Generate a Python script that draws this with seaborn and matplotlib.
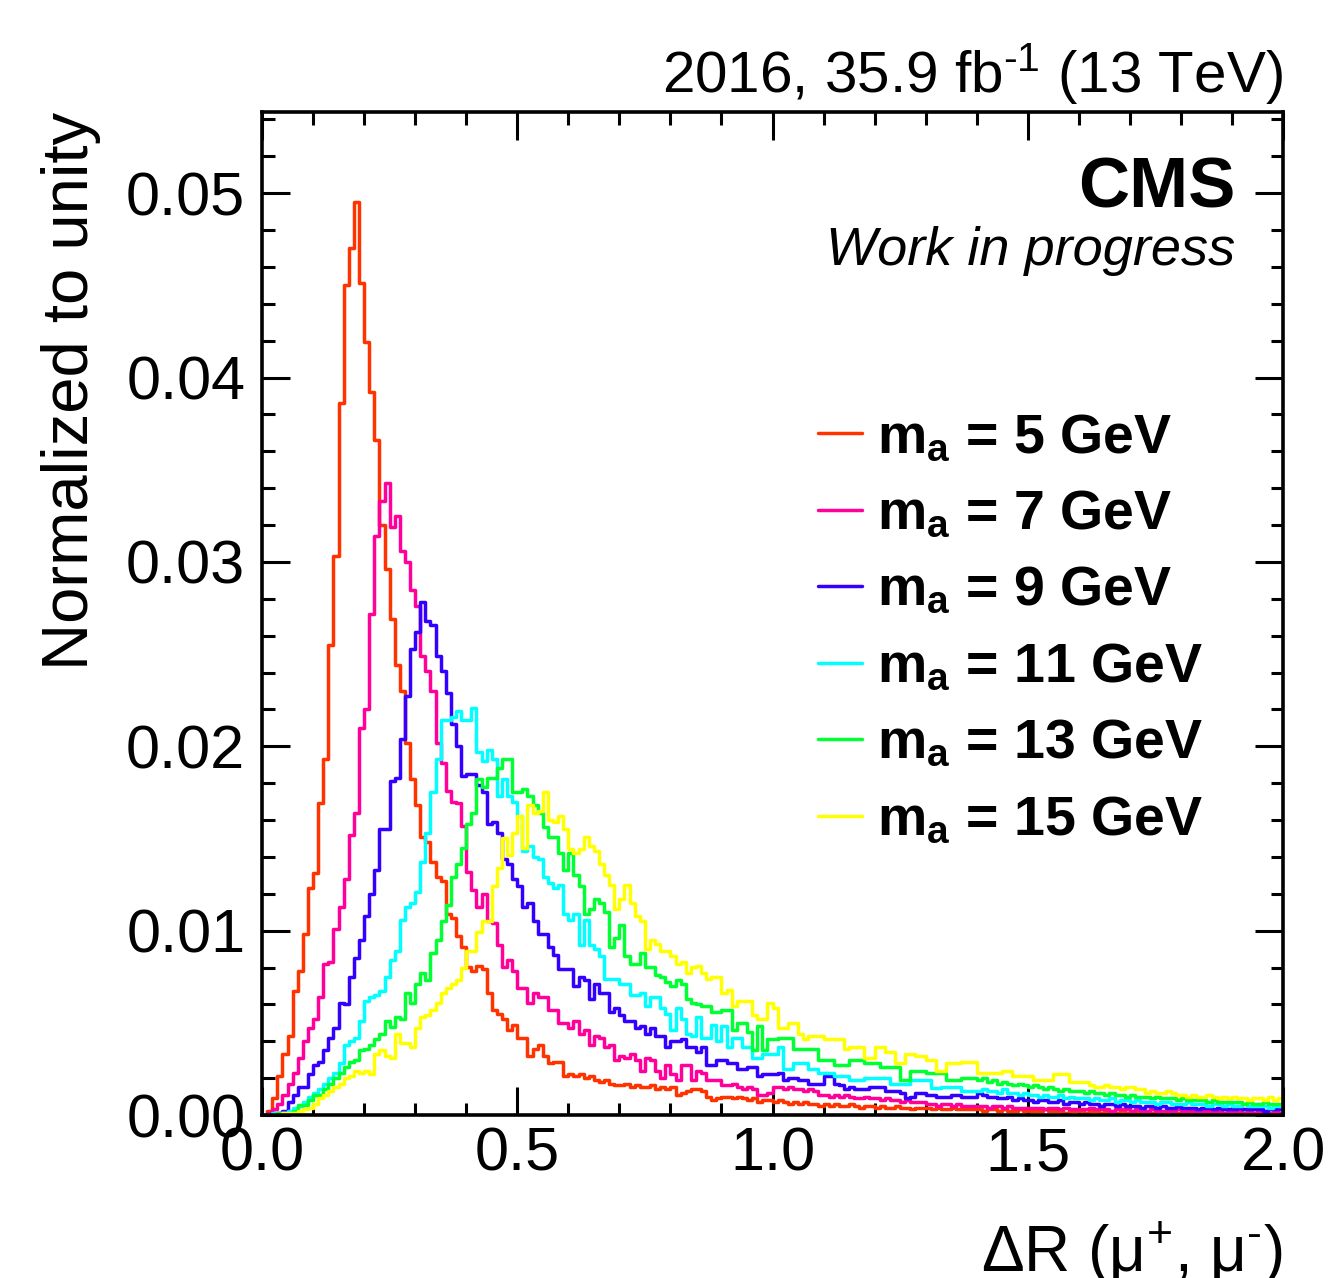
import numpy as np
import pandas as pd
import matplotlib
matplotlib.use("Agg")
import matplotlib.pyplot as plt
import seaborn as sns
from matplotlib.lines import Line2D
from matplotlib.ticker import MultipleLocator, FormatStrFormatter

# ---------------- data (bin contents in units of 1e-3, 200 bins of width 0.01 from 0 to 2) -------------
n_bins = 200
x_min, x_max = 0.0, 2.0

mass_labels = [r"$\mathbf{m_{a}}$ = 5 GeV", r"$\mathbf{m_{a}}$ = 7 GeV", r"$\mathbf{m_{a}}$ = 9 GeV",
               r"$\mathbf{m_{a}}$ = 11 GeV", r"$\mathbf{m_{a}}$ = 13 GeV", r"$\mathbf{m_{a}}$ = 15 GeV"]
colors = ["#ff3300", "#ff0099", "#3300ff", "#00ffff", "#00ff33", "#ffff00"]

ma5 = [
    0.0, 0.2, 0.9, 2.1, 3.3, 4.3, 6.7, 7.8, 9.8, 12.3,
    13.1, 16.9, 19.3, 25.5, 30.3, 38.6, 45.0, 47.0, 49.5, 45.1,
    41.9, 39.2, 36.6, 32.0, 29.6, 26.9, 24.4, 23.0, 20.2, 18.2,
    16.8, 15.1, 14.8, 13.7, 12.9, 12.7, 10.9, 10.7, 9.7, 9.1,
    8.0, 7.8, 8.1, 7.9, 6.6, 5.7, 5.5, 5.2, 4.6, 4.9,
    4.2, 4.2, 3.2, 3.6, 3.8, 3.2, 2.8, 2.9, 2.9, 2.1,
    2.2, 2.1, 2.2, 2.0, 2.1, 1.9, 1.8, 1.9, 1.7, 1.6,
    1.6, 1.7, 1.5, 1.6, 1.5, 1.5, 1.6, 1.4, 1.5, 1.4,
    1.5, 1.1, 1.2, 1.3, 1.4, 1.4, 1.3, 1.0, 0.8, 0.9,
    1.0, 1.0, 0.9, 1.0, 0.9, 0.8, 0.9, 0.7, 0.8, 0.8,
    0.7, 0.8, 0.7, 0.6, 0.7, 0.6, 0.7, 0.6, 0.6, 0.5,
    0.6, 0.5, 0.6, 0.5, 0.5, 0.6, 0.5, 0.4, 0.5, 0.5,
    0.4, 0.5, 0.4, 0.4, 0.5, 0.4, 0.4, 0.3, 0.4, 0.4,
    0.4, 0.3, 0.4, 0.3, 0.3, 0.4, 0.3, 0.3, 0.3, 0.3,
    0.3, 0.2, 0.3, 0.3, 0.2, 0.3, 0.2, 0.2, 0.3, 0.2,
    0.2, 0.2, 0.2, 0.3, 0.2, 0.2, 0.2, 0.1, 0.2, 0.2,
    0.2, 0.1, 0.2, 0.2, 0.1, 0.2, 0.1, 0.1, 0.2, 0.1,
    0.1, 0.2, 0.1, 0.1, 0.1, 0.1, 0.2, 0.1, 0.1, 0.1,
    0.1, 0.1, 0.1, 0.1, 0.1, 0.1, 0.1, 0.1, 0.1, 0.1,
    0.1, 0.1, 0.1, 0.1, 0.1, 0.1, 0.1, 0.1, 0.1, 0.1,
]

ma7 = [
    0.0, 0.1, 0.3, 0.6, 1.1, 1.7, 2.3, 3.1, 4.0, 4.7,
    5.2, 6.4, 8.2, 8.3, 10.1, 11.3, 12.8, 15.2, 16.4, 21.0,
    22.0, 27.2, 31.4, 33.3, 34.3, 31.9, 32.5, 30.6, 30.0, 28.5,
    27.6, 24.9, 24.1, 23.0, 20.2, 19.1, 17.6, 17.0, 16.9, 15.7,
    13.2, 12.2, 11.3, 12.0, 10.5, 10.4, 9.2, 8.0, 8.4, 7.8,
    6.9, 6.9, 6.1, 6.6, 6.4, 6.4, 5.7, 5.7, 5.0, 5.0,
    4.7, 5.1, 4.4, 4.6, 3.8, 4.3, 4.2, 3.7, 3.8, 3.0,
    3.2, 3.1, 3.3, 3.0, 2.4, 3.1, 3.0, 2.4, 2.0, 2.7,
    2.2, 1.9, 2.7, 2.7, 1.9, 2.4, 2.3, 1.9, 1.9, 1.9,
    1.6, 1.6, 1.7, 1.5, 1.4, 1.5, 1.4, 1.1, 1.1, 1.2,
    1.5, 1.5, 1.4, 1.5, 1.4, 1.4, 1.3, 1.4, 1.3, 1.1,
    1.1, 1.0, 1.1, 1.0, 1.1, 1.0, 0.9, 0.9, 1.0, 0.9,
    0.9, 0.8, 0.9, 0.8, 0.8, 0.7, 0.8, 0.7, 0.7, 0.7,
    0.6, 0.6, 0.5, 0.6, 0.6, 0.5, 0.6, 0.5, 0.5, 0.5,
    0.5, 0.5, 0.4, 0.5, 0.5, 0.4, 0.5, 0.4, 0.4, 0.4,
    0.4, 0.4, 0.4, 0.3, 0.4, 0.4, 0.3, 0.4, 0.3, 0.3,
    0.3, 0.3, 0.4, 0.3, 0.3, 0.3, 0.2, 0.3, 0.3, 0.3,
    0.2, 0.3, 0.2, 0.2, 0.3, 0.2, 0.2, 0.2, 0.2, 0.3,
    0.2, 0.2, 0.2, 0.2, 0.2, 0.2, 0.2, 0.2, 0.1, 0.2,
    0.2, 0.2, 0.1, 0.2, 0.1, 0.2, 0.1, 0.1, 0.2, 0.1,
]

ma9 = [
    0.0, 0.0, 0.1, 0.1, 0.2, 0.7, 1.1, 1.5, 1.5, 2.2,
    2.7, 2.9, 3.5, 4.2, 4.7, 6.1, 6.0, 7.5, 8.5, 9.5,
    10.8, 12.0, 13.3, 15.5, 15.5, 18.1, 18.3, 20.4, 22.7, 25.3,
    26.2, 27.8, 26.8, 26.6, 24.9, 24.1, 22.9, 21.2, 20.0, 18.4,
    18.5, 18.5, 17.9, 17.5, 15.8, 15.9, 15.3, 13.9, 13.6, 12.8,
    12.4, 11.3, 11.5, 10.5, 9.8, 9.8, 9.1, 8.7, 7.9, 7.9,
    7.9, 7.0, 7.5, 7.3, 6.3, 7.1, 6.6, 6.6, 5.6, 5.8,
    5.4, 5.1, 5.1, 4.7, 4.8, 4.4, 4.7, 4.3, 4.3, 3.7,
    4.0, 4.0, 4.1, 3.7, 3.7, 3.4, 3.7, 2.7, 2.7, 3.0,
    3.0, 2.8, 2.8, 2.5, 2.5, 2.6, 2.6, 2.1, 2.2, 2.2,
    2.2, 2.3, 1.9, 2.0, 2.0, 1.9, 1.9, 1.7, 1.7, 1.7,
    2.1, 2.1, 1.7, 1.6, 1.4, 1.5, 1.4, 1.4, 1.4, 1.5,
    1.5, 1.5, 1.3, 1.3, 1.3, 1.2, 0.9, 1.0, 1.2, 1.2,
    1.1, 1.1, 1.0, 1.0, 1.0, 1.1, 1.1, 1.0, 1.0, 1.0,
    1.2, 1.1, 1.0, 1.0, 0.9, 0.9, 1.0, 0.8, 0.9, 0.8,
    0.8, 0.7, 0.8, 0.8, 0.7, 0.7, 0.8, 0.6, 0.7, 0.7,
    0.6, 0.7, 0.6, 0.6, 0.5, 0.6, 0.6, 0.5, 0.6, 0.5,
    0.5, 0.5, 0.4, 0.5, 0.5, 0.4, 0.5, 0.4, 0.4, 0.5,
    0.4, 0.4, 0.4, 0.3, 0.4, 0.4, 0.3, 0.4, 0.3, 0.3,
    0.3, 0.4, 0.3, 0.3, 0.3, 0.3, 0.2, 0.3, 0.3, 0.3,
]

ma11 = [
    0.0, 0.0, 0.1, 0.1, 0.1, 0.2, 0.4, 0.5, 0.7, 1.0,
    1.2, 1.4, 1.7, 2.0, 2.3, 2.8, 3.8, 4.0, 4.2, 5.1,
    6.2, 6.4, 6.5, 6.7, 7.5, 8.4, 8.9, 10.6, 11.3, 11.5,
    12.1, 13.7, 15.3, 17.5, 19.3, 21.4, 21.4, 21.6, 21.9, 21.4,
    21.4, 22.1, 19.7, 19.2, 19.8, 19.3, 17.3, 18.2, 17.3, 17.0,
    16.2, 14.3, 14.6, 14.0, 13.9, 12.9, 12.6, 12.3, 12.5, 10.9,
    10.6, 10.9, 9.2, 10.6, 9.2, 9.0, 8.6, 7.4, 7.4, 7.4,
    7.1, 7.1, 6.5, 6.5, 6.6, 5.9, 6.4, 6.4, 5.8, 5.5,
    4.6, 5.8, 5.2, 4.4, 4.3, 5.3, 4.2, 4.2, 4.9, 4.0,
    4.8, 3.7, 4.2, 4.2, 3.7, 3.7, 3.1, 3.1, 3.3, 3.3,
    3.3, 3.7, 2.5, 2.5, 2.8, 2.8, 2.8, 2.5, 2.5, 2.3,
    2.3, 2.3, 2.1, 2.1, 2.1, 1.9, 1.9, 1.9, 2.0, 2.0,
    2.0, 2.0, 2.0, 1.7, 1.7, 1.7, 1.7, 1.9, 1.9, 1.9,
    1.9, 1.45, 1.45, 1.5, 1.5, 1.5, 1.5, 1.3, 1.3, 1.3,
    1.3, 1.4, 1.3, 1.3, 1.2, 1.4, 1.2, 1.2, 1.1, 1.2,
    1.1, 1.1, 1.0, 1.1, 1.0, 1.0, 1.1, 0.9, 1.0, 0.9,
    0.9, 0.9, 0.8, 0.9, 0.8, 0.8, 0.9, 0.7, 0.8, 0.8,
    0.7, 0.8, 0.7, 0.7, 0.7, 0.6, 0.7, 0.7, 0.6, 0.6,
    0.6, 0.7, 0.6, 0.6, 0.6, 0.5, 0.6, 0.6, 0.5, 0.6,
    0.5, 0.5, 0.6, 0.5, 0.5, 0.5, 0.5, 0.4, 0.5, 0.5,
]

ma13 = [
    0.0, 0.0, 0.0, 0.1, 0.1, 0.1, 0.2, 0.55, 0.55, 0.8,
    1.1, 1.1, 1.4, 1.7, 2.0, 2.3, 2.6, 2.9, 3.0, 3.5,
    3.6, 3.8, 4.1, 4.4, 5.1, 4.8, 5.3, 5.2, 6.6, 6.1,
    7.1, 7.7, 7.3, 8.8, 9.5, 10.5, 11.4, 12.9, 13.6, 14.5,
    15.8, 16.4, 18.2, 17.8, 18.3, 18.3, 18.8, 19.3, 19.3, 17.5,
    17.5, 17.7, 17.3, 16.8, 16.4, 15.6, 15.1, 15.1, 14.2, 13.3,
    14.2, 13.0, 12.4, 10.9, 11.2, 11.7, 11.5, 11.0, 9.1, 9.6,
    10.3, 8.6, 8.2, 8.2, 8.8, 8.0, 8.0, 7.6, 7.5, 7.2,
    7.0, 7.3, 7.1, 6.3, 6.1, 6.0, 5.9, 5.9, 5.6, 5.6,
    5.7, 5.7, 4.6, 5.0, 5.0, 4.5, 3.5, 4.8, 3.5, 4.1,
    4.1, 4.2, 4.2, 4.2, 3.6, 3.6, 3.6, 3.6, 3.6, 3.0,
    3.0, 3.0, 2.7, 2.7, 2.7, 3.0, 3.0, 3.0, 2.8, 2.8,
    2.8, 2.6, 2.6, 2.6, 2.6, 1.9, 1.9, 2.4, 2.4, 2.4,
    2.3, 2.3, 2.3, 2.3, 1.9, 1.9, 1.9, 2.0, 2.0, 2.0,
    1.9, 2.0, 1.8, 1.9, 1.7, 1.8, 1.7, 1.6, 1.7, 1.6,
    1.5, 1.6, 1.5, 1.4, 1.5, 1.4, 1.3, 1.4, 1.3, 1.3,
    1.3, 1.2, 1.3, 1.2, 1.2, 1.1, 1.2, 1.1, 1.1, 1.0,
    1.1, 1.0, 1.0, 1.0, 0.9, 1.0, 0.9, 0.9, 0.9, 0.8,
    0.9, 0.8, 0.8, 0.8, 0.8, 0.7, 0.8, 0.7, 0.7, 0.7,
    0.7, 0.7, 0.6, 0.7, 0.6, 0.6, 0.7, 0.6, 0.6, 0.6,
]

ma15 = [
    0.0, 0.0, 0.0, 0.0, 0.1, 0.1, 0.1, 0.2, 0.3, 0.4,
    0.6, 0.9, 1.1, 1.3, 1.5, 1.7, 2.0, 2.1, 2.4, 2.3,
    2.4, 2.2, 3.3, 3.5, 3.2, 3.1, 4.4, 3.9, 3.9, 3.7,
    4.7, 5.3, 5.4, 5.7, 6.1, 6.6, 6.9, 7.1, 7.3, 8.0,
    8.9, 8.9, 9.9, 10.5, 10.5, 12.4, 13.4, 15.0, 14.1, 15.3,
    16.2, 14.5, 16.8, 16.4, 16.5, 17.5, 16.0, 15.9, 16.2, 15.5,
    14.4, 14.2, 14.4, 15.1, 14.6, 14.3, 13.6, 13.0, 12.5, 11.2,
    11.7, 12.5, 11.5, 10.8, 10.5, 9.0, 9.5, 9.3, 8.9, 8.9,
    8.6, 8.2, 8.3, 7.7, 8.0, 8.1, 7.7, 7.4, 7.5, 7.5,
    6.6, 6.8, 5.9, 6.2, 6.2, 6.2, 5.4, 5.2, 5.2, 6.1,
    5.8, 4.7, 4.7, 5.0, 5.0, 4.4, 4.1, 4.3, 4.3, 4.3,
    4.1, 4.1, 4.1, 4.1, 3.6, 3.7, 3.7, 3.7, 3.1, 3.1,
    3.7, 3.7, 3.4, 3.4, 2.8, 2.8, 3.3, 3.3, 3.2, 3.2,
    3.0, 3.0, 2.4, 2.4, 2.8, 2.8, 2.8, 2.9, 2.9, 2.9,
    2.3, 2.3, 2.3, 2.3, 2.3, 2.4, 2.4, 2.1, 2.1, 2.1,
    2.1, 1.9, 1.9, 1.9, 1.9, 2.2, 2.2, 2.2, 1.8, 1.8,
    1.8, 1.8, 1.6, 1.5, 1.5, 1.6, 1.5, 1.5, 1.4, 1.5,
    1.5, 1.4, 1.4, 1.2, 1.3, 1.2, 1.2, 1.3, 1.2, 1.1,
    1.1, 1.0, 1.1, 1.0, 1.0, 1.1, 1.0, 0.9, 1.0, 0.9,
    1.0, 0.9, 0.9, 0.8, 0.9, 0.9, 0.8, 1.0, 0.8, 0.9,
]

series = [ma5, ma7, ma9, ma11, ma13, ma15]
unit = 1e-3

# ---------------- figure ----------------
sns.set_style("ticks")
plt.rcParams["font.family"] = ["Liberation Sans", "DejaVu Sans"]
plt.rcParams["mathtext.fontset"] = "custom"
plt.rcParams["mathtext.rm"] = "Liberation Sans"
plt.rcParams["mathtext.it"] = "Liberation Sans:italic"
plt.rcParams["mathtext.bf"] = "Liberation Sans:bold"
for key in ["text.color", "axes.labelcolor", "xtick.color", "ytick.color", "axes.edgecolor"]:
    plt.rcParams[key] = "black"

W, H = 1328, 1278
fig = plt.figure(figsize=(W / 100, H / 100), dpi=100)
ax = fig.add_axes([262 / W, 1 - 1115 / H, (1283 - 262) / W, (1115 - 112) / H])

edges = [x_min + i * (x_max - x_min) / n_bins for i in range(n_bins + 1)]
centers = [0.5 * (edges[i] + edges[i + 1]) for i in range(n_bins)]

for vals, lab, col in zip(series, mass_labels, colors):
    df = pd.DataFrame({"dR": centers, "w": np.asarray(vals) * unit})
    sns.histplot(data=df, x="dR", weights="w", bins=edges, element="step", fill=False,
                 color=col, linewidth=2.5, ax=ax, legend=False)

ax.set_xlim(0, 2.0)
ax.set_ylim(0, 0.0544)

ax.xaxis.set_major_locator(MultipleLocator(0.5))
ax.xaxis.set_minor_locator(MultipleLocator(0.1))
ax.yaxis.set_major_locator(MultipleLocator(0.01))
ax.yaxis.set_minor_locator(MultipleLocator(0.002))
ax.xaxis.set_major_formatter(FormatStrFormatter("%.1f"))
ax.yaxis.set_major_formatter(FormatStrFormatter("%.2f"))

ax.tick_params(which="both", direction="in", top=True, right=True, color="black",
               labelcolor="black", width=2.2)
ax.tick_params(which="major", length=20)
ax.tick_params(which="minor", length=9)
ax.tick_params(axis="y", which="major", labelsize=44, pad=12)
ax.tick_params(axis="x", which="major", labelsize=44, pad=8)
for sp in ax.spines.values():
    sp.set_linewidth(2.6)
    sp.set_color("black")

ax.set_ylabel("Normalized to unity", fontsize=47, loc="top", color="black")
ax.yaxis.set_label_coords(-0.158, 1.0)
ax.set_xlabel(r"ΔR (μ$^{+}$, μ$^{\text{-}}$)", fontsize=46, loc="right", color="black")
ax.xaxis.set_label_coords(1.0, -0.104)

ax.text(1.0, 1.0199, r"2016, 35.9 fb$^{\text{-}1}$ (13 TeV)", transform=ax.transAxes,
        ha="right", va="baseline", fontsize=42, color="black")
ax.text(0.953, 0.9043, "CMS", transform=ax.transAxes, ha="right", va="baseline",
        fontsize=51, fontweight="bold", color="black")
ax.text(0.953, 0.8475, "Work in progress", transform=ax.transAxes, ha="right", va="baseline",
        fontsize=39, style="italic", color="black")

handles = [Line2D([], [], color=c, linewidth=2.5) for c in colors]
leg = ax.legend(handles, mass_labels, loc="upper left", bbox_to_anchor=(0.5446, 0.700),
                frameon=False, prop={"size": 40, "weight": "bold"}, handlelength=0.8,
                handletextpad=0.27, labelspacing=0.44, borderpad=0, borderaxespad=0)
for t in leg.get_texts():
    t.set_color("black")

fig.savefig("out.png", dpi=100)
